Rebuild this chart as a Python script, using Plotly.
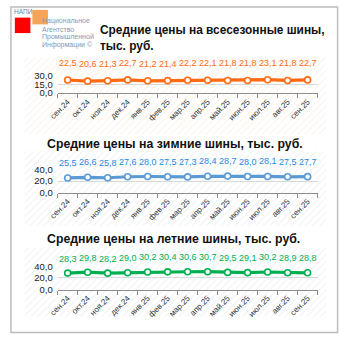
import plotly.graph_objects as go

# Monthly categories
months = ["сен.24", "окт.24", "ноя.24", "дек.24", "янв.25", "фев.25", "мар.25",
          "апр.25", "май.25", "июн.25", "июл.25", "авг.25", "сен.25"]

# Average prices, thousand rubles
all_season = [22.5, 20.6, 21.3, 22.7, 21.2, 21.4, 22.2, 22.1, 21.8, 21.8, 23.1, 21.8, 22.7]
winter = [25.5, 26.6, 25.8, 27.6, 28.0, 27.5, 27.3, 28.4, 28.7, 28.0, 28.1, 27.5, 27.7]
summer = [28.3, 29.8, 28.2, 29.0, 30.2, 30.4, 30.6, 30.7, 29.5, 29.1, 30.2, 28.9, 28.8]

title_allseason = ["Средние цены на всесезонные шины,", "тыс. руб."]
title_winter = "Средние цены на зимние шины, тыс. руб."
title_summer = "Средние цены на летние шины, тыс. руб."
logo_lines = ["Национальное", "Агентство", "Промышленной", "Информации ©"]

W = H = 340
FONT = "Liberation Sans, Arial, sans-serif"


def px(x):
    return x / W


def py(y):
    return 1 - y / H


fig = go.Figure()

# Hatched panel backgrounds on a full-canvas pixel axis (drawn beneath the charts)
bg_panels = [
    (16, 326, 53, 133, "#FBE3D2"),
    (16, 326, 150, 227, "#DDE3EA"),
    (16, 326, 250, 321, "#DEE2E6"),
]
for x0, x1, y0, y1, col in bg_panels:
    fig.add_trace(go.Scatter(
        x=[x0, x1, x1, x0, x0], y=[y0, y0, y1, y1, y0],
        mode="lines", line=dict(width=0), fill="toself",
        fillpattern=dict(shape="/", fgcolor=col, bgcolor="white", size=5, solidity=0.2),
        hoverinfo="skip", showlegend=False, xaxis="x", yaxis="y"))

fig.update_layout(
    xaxis=dict(domain=[0, 1], range=[0, W], visible=False, fixedrange=True),
    yaxis=dict(domain=[0, 1], range=[H, 0], visible=False, fixedrange=True),
)

panels = [
    dict(vals=all_season, line="#FF6A13", label="#FF6A13", ymax=30, dtick=15,
         y0=72, y1=90, shift=17),
    dict(vals=winter, line="#5B9BD5", label="#1F8AE0", ymax=40, dtick=20,
         y0=169, y1=193, shift=15),
    dict(vals=summer, line="#00B050", label="#00B050", ymax=40, dtick=20,
         y0=269, y1=293, shift=14.5),
]

annotations = []
for i, p in enumerate(panels, start=2):
    xa, ya = f"x{i}", f"y{i}"
    fig.add_trace(go.Scatter(
        x=months, y=p["vals"], mode="lines+markers",
        line=dict(color=p["line"], width=3.2),
        marker=dict(size=6, color="white", line=dict(color=p["line"], width=1.6)),
        showlegend=False, hoverinfo="skip", xaxis=xa, yaxis=ya, cliponaxis=False))
    for m, v in zip(months, p["vals"]):
        annotations.append(dict(
            x=m, y=v, xref=xa, yref=ya, text=f"{v:.1f}".replace(".", ","),
            showarrow=False, yshift=p["shift"],
            font=dict(family=FONT, size=9, color=p["label"])))
    ticks_y = [0, p["dtick"], p["ymax"]]
    fig.update_layout(**{
        f"xaxis{i}": dict(
            domain=[px(50), px(317)], anchor=ya, type="category",
            range=[-0.5, len(months) - 0.5],
            showline=True, linecolor="#8C8C8C", linewidth=1,
            ticks="outside", tickson="boundaries", ticklen=4, tickcolor="#8C8C8C",
            tickangle=-45, tickfont=dict(family=FONT, size=8, color="#333333"),
            showgrid=False, fixedrange=True),
        f"yaxis{i}": dict(
            domain=[py(p["y1"]), py(p["y0"])], anchor=xa,
            range=[0, p["ymax"]], tickvals=ticks_y,
            ticktext=[f"{t:.1f}".replace(".", ",") for t in ticks_y],
            showgrid=True, gridcolor="#D9D9D9", gridwidth=1,
            zeroline=False, showline=False, ticks="", ticklabelstandoff=4,
            tickfont=dict(family=FONT, size=9.5, color="#1A1A1A"),
            fixedrange=True),
    })

# Panel titles
for text, y in zip(title_allseason, (25, 41)):
    annotations.append(dict(x=px(91), y=py(y), xref="paper", yref="paper",
                            xanchor="left", yanchor="middle",
                            text=f"<b>{text}</b>", showarrow=False,
                            font=dict(family=FONT, size=11.9, color="#111111")))
annotations.append(dict(x=px(170.5), y=py(143), xref="paper", yref="paper",
                        xanchor="center", yanchor="middle",
                        text=f"<b>{title_winter}</b>", showarrow=False,
                        font=dict(family=FONT, size=12.3, color="#111111")))
annotations.append(dict(x=px(169), y=py(241), xref="paper", yref="paper",
                        xanchor="center", yanchor="middle",
                        text=f"<b>{title_summer}</b>", showarrow=False,
                        font=dict(family=FONT, size=12.3, color="#111111")))

# Agency logo
annotations.append(dict(x=px(3), y=py(6), xref="paper", yref="paper",
                        xanchor="left", yanchor="middle", text="НАПИ", showarrow=False,
                        font=dict(family=FONT, size=6.5, color="#6F7FA8")))
for k, line in enumerate(logo_lines):
    annotations.append(dict(x=px(32), y=py(16 + 8 * k), xref="paper", yref="paper",
                            xanchor="left", yanchor="middle", text=line,
                            showarrow=False,
                            font=dict(family=FONT, size=7, color="#8A96B4")))

shapes = [
    dict(type="rect", xref="paper", yref="paper", x0=px(24), x1=px(40),
         y0=py(19), y1=py(4), fillcolor="#F59A45", line=dict(width=0), opacity=0.9),
    dict(type="rect", xref="paper", yref="paper", x0=px(6), x1=px(22),
         y0=py(28), y1=py(12), fillcolor="#FF0000", line=dict(width=0)),
    dict(type="rect", xref="paper", yref="paper", x0=px(2), x1=px(337.5),
         y0=py(337.5), y1=py(1), line=dict(color="#BDBDBD", width=1.5),
         fillcolor="rgba(0,0,0,0)"),
]

fig.update_layout(
    width=W, height=H, margin=dict(l=0, r=0, t=0, b=0),
    paper_bgcolor="white", plot_bgcolor="rgba(0,0,0,0)",
    annotations=annotations, shapes=shapes, showlegend=False,
)

fig.write_html("out.html", config={"displayModeBar": False})
